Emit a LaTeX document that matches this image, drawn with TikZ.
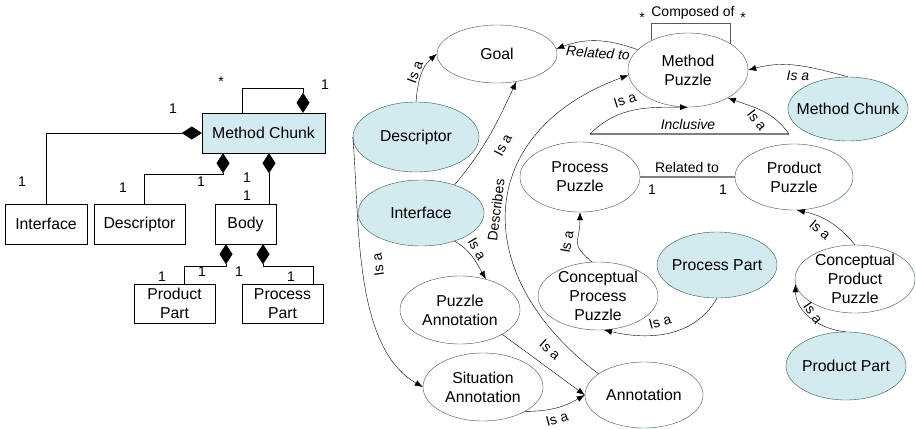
\documentclass[tikz,border=0pt]{standalone}
\usepackage{fontspec}
\setmainfont{Liberation Sans}
\usepackage{tikz}
\usetikzlibrary{positioning}
\usetikzlibrary{shapes.geometric}
\usetikzlibrary{arrows.meta}

\definecolor{chunkblue}{RGB}{211,234,240}
\definecolor{puzzlegreen}{RGB}{50,92,70}

\begin{document}
\begin{tikzpicture}[x=1pt, y=1pt,
	every node/.style={font=\fontsize{15.8}{19}\selectfont},
	box/.style={draw, rectangle, inner sep=0pt, minimum height=40pt, align=center},
	puzzle/.style={draw=puzzlegreen, ellipse, fill=white, inner xsep=-20pt, inner ysep=-12pt, minimum width=120pt, minimum height=68pt, align=center},
	part/.style={puzzle, fill=chunkblue},
	lbl/.style={font=\fontsize{14}{17}\selectfont, inner sep=1pt},
	ilbl/.style={font=\fontsize{14}{17}\selectfont\itshape, inner sep=1pt},
	comp/.style={{Diamond[length=20pt, width=13pt]}-},
	isa/.style={-{Latex[length=8pt, width=6pt]}},
	heavy/.style={draw=gray, line width=1.5pt}]

	\useasboundingbox (0,0) rectangle (916,-429);

	% Method Chunk (class diagram) %
	\node[box, fill=chunkblue, minimum width=123pt] (mc) at (263.5,-133) {Method Chunk};
	\node[box, minimum width=82pt] (ifacebox) at (46,-224) {Interface};
	\node[box, minimum width=91pt] (descbox) at (139.5,-224) {Descriptor};
	\node[box, minimum width=61pt] (bodybox) at (245.5,-224) {Body};
	\node[box, minimum width=81pt, minimum height=39pt] (prodbox) at (174.5,-303.5) {Product\\Part};
	\node[box, minimum width=81pt, minimum height=39pt] (procbox) at (282.5,-303.5) {Process\\Part};
	% Compositions %
	\draw[comp] ([xshift=39.5]mc.north) -- ++(0,25) -| ([xshift=-21.5]mc.north);
	\draw[comp] (mc.west) -| (ifacebox.north);
	\draw[comp] ([xshift=-40.5]mc.south) -- ++(0,-21) -| ([xshift=4.5]descbox.north);
	\draw[comp] ([xshift=5.5]mc.south) -- ([xshift=23.5]bodybox.north);
	\draw[comp] ([xshift=-19.5]bodybox.south) -- ++(0,-22) -| ([xshift=9.5]prodbox.north);
	\draw[comp] ([xshift=17.5]bodybox.south) -- ++(0,-22) -| ([xshift=30.5]procbox.north);
	% Multiplicities %
	\foreach \x/\y/\t [count=\i] in {221/82/*, 325/85/1, 173/109/1, 22/182/1, 201/182/1, 123/188/1, 247/178/1, 247/196/1, 162/277/1, 202/272/1, 239/272/1, 291/277/1}
		\node[lbl] (mult\i) at (\x,-\y) {\t};

	% Puzzles %
	\node[puzzle, minimum height=58pt] (goal) at (497,-54) {Goal};
	\node[puzzle, minimum height=74pt] (mpuzzle) at (688,-70) {Method\\Puzzle};
	\node[part, minimum height=64pt] (mchunk) at (848,-109) {Method Chunk};
	\node[part, minimum width=126pt, minimum height=70pt] (descriptor) at (416,-137) {Descriptor};
	\node[part, minimum width=126pt, minimum height=66pt] (interface) at (421,-213) {Interface};
	\node[puzzle, minimum height=70pt] (procpuzzle) at (580,-177) {Process\\Puzzle};
	\node[puzzle, minimum width=118pt, minimum height=66pt] (prodpuzzle) at (794,-177) {Product\\Puzzle};
	\node[puzzle] (puzzleann) at (460,-310) {Puzzle\\Annotation};
	\node[puzzle] (situationann) at (483,-387) {Situation\\Annotation};
	\node[puzzle, minimum width=118pt, minimum height=66pt] (annotation) at (644,-395) {Annotation};
	\node[puzzle] (cprocpuzzle) at (598,-296) {Conceptual\\Process\\Puzzle};
	\node[part, minimum height=66pt] (procpart) at (717,-265) {Process Part};
	\node[puzzle] (cprodpuzzle) at (855,-279) {Conceptual\\Product\\Puzzle};
	\node[part] (prodpart) at (846,-366) {Product Part};

	% Composed of %
	\draw[draw=gray!70!black, line width=1.2pt] (mpuzzle.141) -- ++(0,17) -| (mpuzzle.32);
	\node[lbl] (composed) at (693,-13) {Composed of};
	\node[lbl] (star1) at (642,-18) {*};
	\node[lbl] (star2) at (743,-18) {*};
	% Related to %
	\draw[heavy] (procpuzzle.east) -- (prodpuzzle.west);
	\node[lbl] (related) at (687,-167) {Related to};
	\node[lbl] (one1) at (652,-190) {1};
	\node[lbl] (one2) at (723,-190) {1};
	% Inclusive %
	\coordinate (incl-l) at (590,-134);
	\coordinate (incl-r) at (789,-134);
	\draw[heavy] (incl-l) -- (incl-r);
	\node[ilbl] (inclusive) at (688,-124) {Inclusive};

	% Is a %
	\draw[isa] (descriptor.north) to[out=85, in=220] (goal.west);
	\draw[isa] (interface.40) to[out=50, in=245] (goal.-55);
	\draw[isa] (descriptor.west) to[out=-85, in=150, looseness=.8] (situationann.west);
	\draw[isa] (interface.-40) to[out=-30, in=120] (puzzleann.50);
	\draw[isa] (puzzleann.-30) -- (annotation.west);
	\draw[isa] (situationann.-30) to[out=0, in=210] (annotation.west);
	\draw[isa] (annotation.155) to[out=143, in=200, looseness=1.4] (mpuzzle.185);
	\draw[isa] (incl-l) to[out=45, in=180] (mpuzzle.south);
	\draw[isa] (incl-r) to[out=125, in=-20] (mpuzzle.-35);
	\draw[isa] (mchunk.north) to[out=165, in=15] (mpuzzle.east);
	\draw[isa] (mpuzzle.158) to[out=160, in=20] (goal.5);
	\draw[isa] (cprocpuzzle.100) to[out=140, in=-90, looseness=1.5] (procpuzzle.south);
	\draw[isa] (procpart.south) to[out=-120, in=-13] (cprocpuzzle.-80);
	\draw[isa] (cprodpuzzle.north) to[out=130, in=-12] (prodpuzzle.-85);
	\draw[isa] (prodpart.north) to[out=175, in=-90] (cprodpuzzle.185);
	% Labels %
	\node[lbl, rotate=70] (isa1) at (415,-72) {Is a};
	\node[lbl, rotate=62] (isa2) at (503,-145) {Is a};
	\node[lbl, rotate=97] (isa3) at (378,-265) {Is a};
	\node[lbl, rotate=-60] (isa4) at (477,-249) {Is a};
	\node[lbl, rotate=-42] (isa5) at (550,-350) {Is a};
	\node[lbl, rotate=15] (isa6) at (557,-419) {Is a};
	\node[lbl, rotate=83] (describes) at (496,-210) {Describes};
	\node[lbl, rotate=18] (isa7) at (625,-100) {Is a};
	\node[lbl, rotate=-52] (isa8) at (757,-120) {Is a};
	\node[ilbl] (isa9) at (798,-76) {Is a};
	\node[ilbl, rotate=-4] (relgoal) at (598,-53) {Related to};
	\node[lbl, rotate=80] (isa10) at (567,-242) {Is a};
	\node[lbl, rotate=15] (isa11) at (660,-322) {Is a};
	\node[lbl, rotate=-40] (isa12) at (820,-230) {Is a};
	\node[lbl, rotate=-55] (isa13) at (813,-313) {Is a};
\end{tikzpicture}
\end{document}
